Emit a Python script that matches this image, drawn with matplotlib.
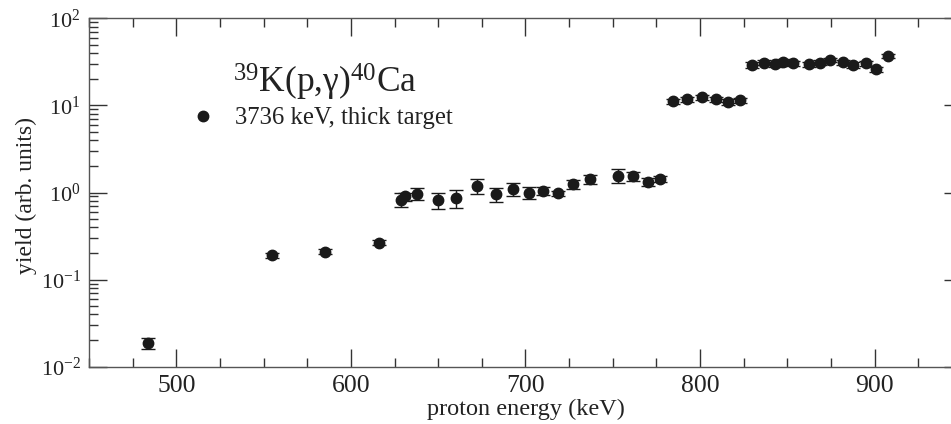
import matplotlib
matplotlib.use("Agg")
import matplotlib.pyplot as plt
from matplotlib.lines import Line2D

plt.rcParams['font.family'] = ['Liberation Serif', 'DejaVu Serif']
plt.rcParams['mathtext.fontset'] = 'custom'
plt.rcParams['mathtext.rm'] = 'Liberation Serif'
plt.rcParams['mathtext.it'] = 'Liberation Serif:italic'
plt.rcParams['mathtext.default'] = 'regular'
plt.rcParams['axes.unicode_minus'] = False

# Daten
energie = [484, 555, 585, 616, 628.5, 631, 638, 650, 660, 672, 683, 693,
           702, 710, 718.5, 727, 737, 753, 761.5, 770, 777,
           784.5, 792.7, 801.3, 809.3, 816, 822.6,
           829.7, 836.5, 842.7, 847.5, 853.2, 862.2, 868.9, 874.6, 881.9,
           887.6, 894.9, 901, 907.7]
ausbeute = [0.0186, 0.19, 0.21, 0.265, 0.83, 0.90, 0.97, 0.82, 0.87, 1.20,
            0.95, 1.10, 1.00, 1.05, 0.98, 1.25, 1.42, 1.56, 1.54, 1.33, 1.43,
            11.2, 11.8, 12.4, 11.7, 11.0, 11.5,
            29.1, 30.9, 29.8, 31.8, 30.4, 29.7, 30.9, 33.2, 31.3,
            29.1, 30.4, 25.9, 36.9]
fehler = [0.0025, 0.012, 0.014, 0.018, 0.15, 0.10, 0.15, 0.18, 0.21, 0.24,
          0.18, 0.19, 0.16, 0.12, 0.07, 0.15, 0.18, 0.28, 0.17, 0.13, 0.11,
          0.8, 0.8, 0.8, 0.8, 0.8, 0.8,
          2.0, 2.0, 2.0, 2.0, 2.0, 2.0, 2.0, 2.0, 2.0,
          2.0, 2.0, 2.0, 2.0]

xticks = [500, 600, 700, 800, 900]

fig = plt.figure(figsize=(9.51, 4.24), dpi=100)
ax = fig.add_axes([89 / 951, 1 - 366.7 / 424, 873 / 951, 348.4 / 424])

ax.errorbar(energie, ausbeute, yerr=fehler, fmt='o', color='#1a1a1a',
            ms=7.5, elinewidth=1.0, capsize=4.7, capthick=1.0, zorder=3)

ax.set_yscale('log')
ax.set_xlim(450, 950)
ax.set_ylim(1e-2, 1e2)
ax.set_xticks(xticks)
ax.set_xticks(range(450, 951, 25), minor=True)

for s in ax.spines.values():
    s.set_color('#555555')
    s.set_linewidth(1.0)

ax.tick_params(which='both', direction='in', top=True, right=True,
               color='#333333', width=1.0, labelcolor='#222222')
ax.tick_params(which='major', length=13, pad=6)
ax.tick_params(which='minor', length=6.5)
ax.tick_params(axis='x', labelsize=18.5)
ax.tick_params(axis='y', which='major', pad=6, labelsize=16)

ax.set_xlabel('proton energy (keV)', fontsize=17.5, color='#222222',
              labelpad=1)
ax.set_ylabel('yield (arb. units)', fontsize=17, color='#222222')
ax.yaxis.set_label_coords(-0.059, 0.49)

ax.text(0.165, 0.785, r'$^{39}$K(p,γ)$^{40}$Ca', transform=ax.transAxes,
        fontsize=25.5, color='#222222', va='baseline', ha='left')

handle = Line2D([], [], marker='o', ls='none', color='#1a1a1a', ms=7.5)
ax.legend([handle], ['3736 keV, thick target'], loc='upper left',
          bbox_to_anchor=(0.1176, 0.745), frameon=False, fontsize=17.8,
          handlelength=0.9, handletextpad=0.85, borderpad=0,
          borderaxespad=0, labelcolor='#222222')

plt.savefig('out.png', dpi=100)
